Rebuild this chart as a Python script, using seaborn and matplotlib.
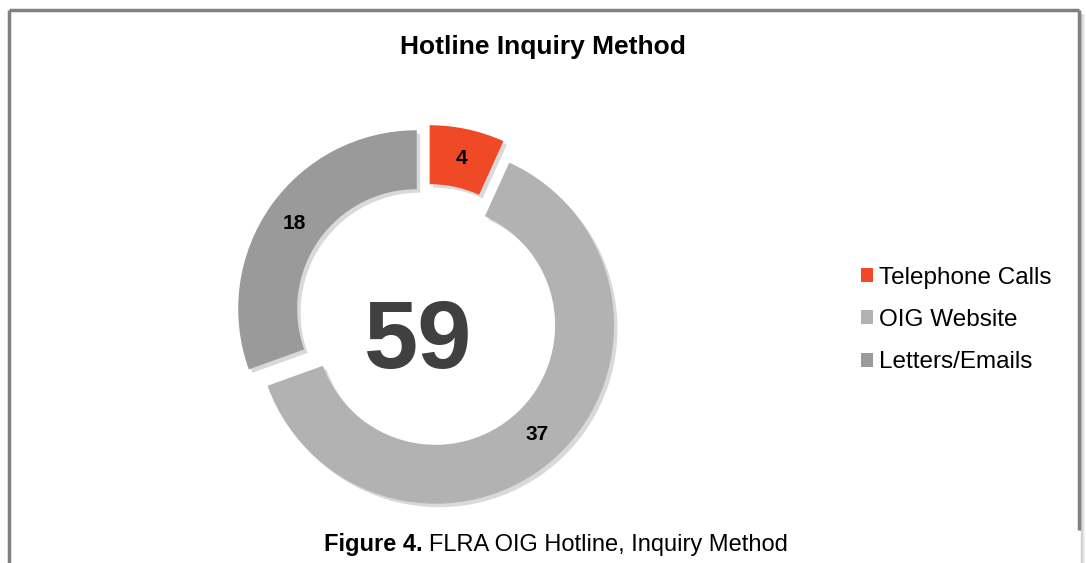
import matplotlib
matplotlib.use("Agg")
import matplotlib.pyplot as plt
import matplotlib.patheffects as pe
import seaborn as sns

# data
methods = ["Telephone Calls", "OIG Website", "Letters/Emails"]
counts = [4, 37, 18]
colors = ["#EF4A25", "#B2B2B2", "#9A9A9A"]
title = "Hotline Inquiry Method"
caption_bold = "Figure 4."
caption_rest = "FLRA OIG Hotline, Inquiry Method"

sns.set_theme(style="white")
plt.rcParams["font.family"] = ["Liberation Sans", "DejaVu Sans"]

W, H = 1086, 563
fig = plt.figure(figsize=(W / 100, H / 100), dpi=100)
fig.patch.set_facecolor("white")

# donut axes: centre (427, 316) px, outer radius 186 px
R = 186
cx, cy = 427, H - 316
half = 1.2 * R
ax = fig.add_axes([(cx - half) / W, (cy - half) / H, 2 * half / W, 2 * half / H])
ax.set_xlim(-1.2, 1.2)
ax.set_ylim(-1.2, 1.2)
ax.set_aspect("equal")
ax.axis("off")

total = sum(counts)
wedges, _, autotexts = ax.pie(
    counts,
    colors=colors,
    startangle=90,
    counterclock=False,
    explode=[0.07] * len(counts),
    wedgeprops=dict(width=0.33, linewidth=0),
    autopct=lambda p: f"{round(p * total / 100)}",
    pctdistance=0.835,
    textprops=dict(fontsize=15, fontweight="bold", color="black"),
)
for w in wedges:
    w.set_path_effects([
        pe.SimplePatchShadow(offset=(2.5, -2.5), shadow_rgbFace="black", alpha=0.15),
        pe.Normal(),
    ])

fig.text(418 / W, 1 - 343 / H, str(total), ha="center", va="center",
         fontsize=70, fontweight="bold", color="#404040")

fig.text(543 / W, 1 - 47 / H, title, ha="center", va="center",
         fontsize=19, fontweight="bold", color="black")

leg = fig.legend(wedges, methods, loc="center left",
                 bbox_to_anchor=(861 / W, 1 - 320 / H), frameon=False,
                 fontsize=17.5, handlelength=0.5, handleheight=0.5,
                 handletextpad=0.25, labelspacing=0.84, borderpad=0,
                 borderaxespad=0)
for h in leg.legend_handles:
    h.set_path_effects([])
for t in leg.get_texts():
    t.set_color("black")

fig.text(423 / W, 1 - 545 / H, caption_bold, ha="right", va="center",
         fontsize=17, fontweight="bold", color="black")
fig.text(429 / W, 1 - 545 / H, caption_rest, ha="left", va="center",
         fontsize=17, color="black")

# chart frame
frame = dict(color="#808080", linewidth=2.5, solid_capstyle="butt")
fig.add_artist(plt.Line2D([8.5 / W, 8.5 / W], [0, 1 - 10 / H], **frame))
fig.add_artist(plt.Line2D([8.5 / W, 1079 / W], [1 - 10 / H, 1 - 10 / H], **frame))
fig.add_artist(plt.Line2D([1079 / W, 1079 / W], [1 - 530 / H, 1 - 10 / H], **frame))
for i, a in enumerate([0.35, 0.25, 0.15, 0.08]):
    x = (1081 + i) / W
    fig.add_artist(plt.Line2D([x, x], [0, 1 - 14 / H], color="#808080",
                              linewidth=1, alpha=a))

fig.savefig("out.png", dpi=100)
